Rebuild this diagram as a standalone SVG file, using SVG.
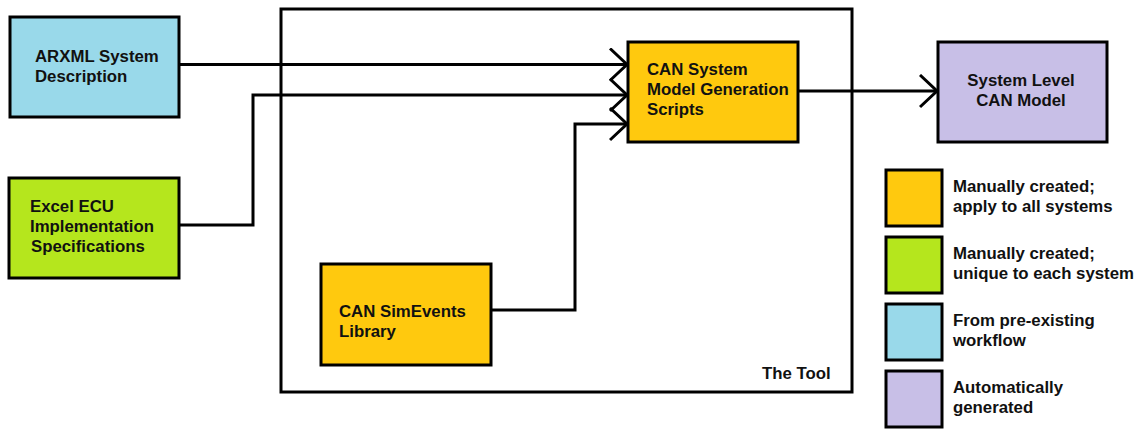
<svg xmlns="http://www.w3.org/2000/svg" width="1145" height="430" viewBox="0 0 1145 430">
<style>
.box{stroke:#000;stroke-width:3}
.t{font-family:"Liberation Sans",Arial,sans-serif;font-weight:bold;font-size:16.8px;fill:#111}
.lt{font-family:"Liberation Sans",Arial,sans-serif;font-weight:bold;font-size:16.8px;fill:#111}
.c{fill:none;stroke:#000;stroke-width:3}
.blue{fill:#99D9EA}.green{fill:#B5E61D}.gold{fill:#FFC90E}.lav{fill:#C8BFE7}
</style>
<defs>
<marker id="ah" markerUnits="userSpaceOnUse" markerWidth="24" markerHeight="40" refX="18" refY="17" orient="auto" viewBox="0 0 24 40">
<polyline points="1,1 18,17 1,33" fill="none" stroke="#000" stroke-width="3"/>
</marker>
</defs>
<g id="tool">
<rect x="281" y="9" width="571" height="383" fill="#fff" class="box"/>
<text class="t" x="762" y="379">The Tool</text>
</g>
<g id="connectors">
<polyline class="c" points="179,64.5 627,64.5" marker-end="url(#ah)"/>
<polyline class="c" points="179,225 253,225 253,95 627,95" marker-end="url(#ah)"/>
<polyline class="c" points="491,310 575,310 575,124 627,124" marker-end="url(#ah)"/>
<polyline class="c" points="798,91 937,91" marker-end="url(#ah)"/>
</g>
<g id="arxml">
<rect x="10" y="17" width="169" height="100" class="box blue"/>
<text class="t" x="35" y="62">ARXML System</text>
<text class="t" x="35" y="82">Description</text>
</g>
<g id="excel">
<rect x="9" y="178" width="170" height="100" class="box green"/>
<text class="t" x="30" y="212">Excel ECU</text>
<text class="t" x="30" y="232">Implementation</text>
<text class="t" x="31" y="252">Specifications</text>
</g>
<g id="scripts">
<rect x="628" y="42" width="170" height="100" class="box gold"/>
<text class="t" x="647" y="75">CAN System</text>
<text class="t" x="647" y="95">Model Generation</text>
<text class="t" x="647" y="115">Scripts</text>
</g>
<g id="simevents">
<rect x="321" y="264" width="170" height="101" class="box gold"/>
<text class="t" x="339" y="317">CAN SimEvents</text>
<text class="t" x="339" y="337">Library</text>
</g>
<g id="model">
<rect x="938" y="42" width="169" height="100" class="box lav"/>
<text class="t" x="1021" y="86" text-anchor="middle">System Level</text>
<text class="t" x="1021" y="106" text-anchor="middle">CAN Model</text>
</g>
<g id="legend-gold">
<rect x="886" y="170" width="56" height="56" class="box gold"/>
<text class="lt" x="953" y="192">Manually created;</text>
<text class="lt" x="953" y="212">apply to all systems</text>
</g>
<g id="legend-green">
<rect x="886" y="237" width="56" height="56" class="box green"/>
<text class="lt" x="953" y="259">Manually created;</text>
<text class="lt" x="953" y="279">unique to each system</text>
</g>
<g id="legend-blue">
<rect x="886" y="304" width="56" height="56" class="box blue"/>
<text class="lt" x="953" y="326">From pre-existing</text>
<text class="lt" x="953" y="346">workflow</text>
</g>
<g id="legend-lav">
<rect x="886" y="371" width="56" height="56" class="box lav"/>
<text class="lt" x="953" y="393">Automatically</text>
<text class="lt" x="953" y="413">generated</text>
</g>
</svg>
